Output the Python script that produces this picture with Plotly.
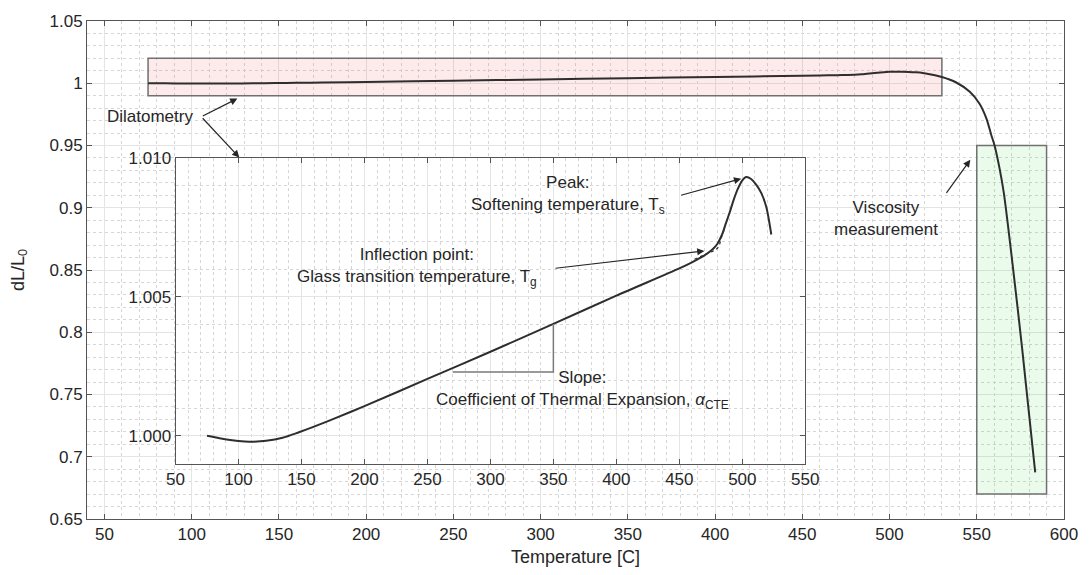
import plotly.graph_objects as go

# ---- dilatometry trace (temperature in C, relative length dL/L0) ----
dil_temp = [75, 85, 95, 105, 112, 122, 135, 148, 160, 175, 200, 250, 300, 350,
            400, 450, 460, 470, 476, 480, 484, 487, 490, 493, 496.5, 500, 503,
            507, 511, 515, 519, 523]
dil_len = [1.00000, 0.99991, 0.99984, 0.99980, 0.99979, 0.99982, 0.99993, 1.00013,
           1.00033, 1.00060, 1.00107, 1.00205, 1.00303, 1.00403, 1.00505, 1.00603,
           1.00625, 1.00650, 1.00670, 1.00690, 1.00726, 1.00766, 1.00805, 1.00848,
           1.00890, 1.00920, 1.00932, 1.00925, 1.00905, 1.00875, 1.00825, 1.00725]

# ---- continuation measured in the viscosity range ----
visc_temp = [530, 538, 546, 551.5, 555.5, 558.3, 560.2, 563, 565.5, 570.5, 576, 583.5]
visc_len = [1.0050, 1.0008, 0.9931, 0.9837, 0.9718, 0.9585, 0.9500, 0.9320,
            0.9120, 0.8550, 0.7870, 0.6875]

# ---- dotted construction near the glass transition ----
tg_temp = [462, 468, 474, 478, 481, 484, 486]
tg_len = [1.00636, 1.00648, 1.00660, 1.00668, 1.00680, 1.00722, 1.00745]

# ---- slope triangle for the CTE ----
slope_temp = [270, 350, 350]
slope_len = [1.00230, 1.00230, 1.00403]

# ---- highlighted regions ----
dil_box_temp = [75, 530]
dil_box_len = [0.99, 1.02]
visc_box_temp = [550, 590]
visc_box_len = [0.67, 0.95]

# ---- ticks ----
main_xticks = [50, 100, 150, 200, 250, 300, 350, 400, 450, 500, 550, 600]
main_yticks = [0.65, 0.7, 0.75, 0.8, 0.85, 0.9, 0.95, 1.0, 1.05]
main_yticktext = ["0.65", "0.7", "0.75", "0.8", "0.85", "0.9", "0.95", "1", "1.05"]
inset_xticks = [50, 100, 150, 200, 250, 300, 350, 400, 450, 500, 550]
inset_yticks = [1.000, 1.005, 1.010]
inset_yticktext = ["1.000", "1.005", "1.010"]

FONT = "Liberation Sans, Arial, sans-serif"
TXT = "#262626"
AXC = "#555555"
CURVE = "#2e2e2e"
GRID = "#e4e4e4"
MINOR = "#d6d6d6"

fig = go.Figure()

# main curve: dilatometry followed by the viscosity range
fig.add_trace(go.Scatter(
    x=dil_temp + visc_temp, y=dil_len + visc_len, mode="lines",
    line=dict(color=CURVE, width=2, shape="spline", smoothing=0.8),
    xaxis="x", yaxis="y", hoverinfo="skip", showlegend=False))

# inset: dilatometry detail
fig.add_trace(go.Scatter(
    x=dil_temp, y=dil_len, mode="lines",
    line=dict(color=CURVE, width=2, shape="spline", smoothing=0.8),
    xaxis="x2", yaxis="y2", hoverinfo="skip", showlegend=False))
fig.add_trace(go.Scatter(
    x=tg_temp, y=tg_len, mode="lines",
    line=dict(color="#333333", width=1.2, dash="dot", shape="spline"),
    xaxis="x2", yaxis="y2", hoverinfo="skip", showlegend=False))
fig.add_trace(go.Scatter(
    x=slope_temp, y=slope_len, mode="lines",
    line=dict(color="#7a7a7a", width=1.5),
    xaxis="x2", yaxis="y2", hoverinfo="skip", showlegend=False))

# highlighted regions on the main axes (translucent, above the grid)
fig.add_shape(type="rect", xref="x", yref="y",
              x0=dil_box_temp[0], x1=dil_box_temp[1], y0=dil_box_len[0], y1=dil_box_len[1],
              fillcolor="rgba(240,80,80,0.12)", line=dict(color="#707070", width=1.5),
              layer="between")
fig.add_shape(type="rect", xref="x", yref="y",
              x0=visc_box_temp[0], x1=visc_box_temp[1], y0=visc_box_len[0], y1=visc_box_len[1],
              fillcolor="rgba(60,220,60,0.10)", line=dict(color="#707070", width=1.5),
              layer="between")

axis_common = dict(
    showline=True, linecolor=AXC, linewidth=1, mirror="ticks",
    ticks="inside", ticklen=5, tickwidth=1, tickcolor=AXC,
    showgrid=True, gridcolor=GRID, gridwidth=1, zeroline=False,
    tickfont=dict(family=FONT, size=17, color=TXT),
)

fig.update_layout(
    width=1090, height=575,
    margin=dict(l=87, r=21, t=19, b=55),
    paper_bgcolor="white", plot_bgcolor="white",
    font=dict(family=FONT, size=17, color=TXT),
    xaxis=dict(**axis_common, range=[40, 600], domain=[0, 1], anchor="y",
               tickvals=main_xticks,
               minor=dict(dtick=10, tick0=0, showgrid=True, gridcolor=MINOR,
                          griddash="dot", gridwidth=1),
               title=dict(text="Temperature [C]", standoff=6,
                          font=dict(family=FONT, size=18, color=TXT))),
    yaxis=dict(**axis_common, range=[0.65, 1.05], domain=[0, 1], anchor="x",
               tickvals=main_yticks, ticktext=main_yticktext,
               minor=dict(dtick=0.01, tick0=0, showgrid=True, gridcolor=MINOR,
                          griddash="dot", gridwidth=1),
               title=dict(text="dL/L<sub>0</sub>", standoff=20,
                          font=dict(family=FONT, size=18, color=TXT))),
    xaxis2=dict(**axis_common, range=[50, 550], domain=[0.0906, 0.7352], anchor="y2",
                tickvals=inset_xticks,
                minor=dict(dtick=10, tick0=0, showgrid=True, gridcolor=MINOR,
                           griddash="dot", gridwidth=1)),
    yaxis2=dict(**axis_common, range=[0.999, 1.010], domain=[0.1112, 0.7246], anchor="x2",
                tickvals=inset_yticks, ticktext=inset_yticktext,
                minor=dict(dtick=0.001, tick0=0, showgrid=True, gridcolor=MINOR,
                           griddash="dot", gridwidth=1)),
)

arrow = dict(showarrow=True, arrowhead=2, arrowsize=1.2, arrowwidth=1.2,
             arrowcolor="#262626", text="")

# main-axes labels and arrows
fig.add_annotation(x=76, y=0.9731, xref="x", yref="y", text="Dilatometry",
                   showarrow=False, font=dict(size=17))
fig.add_annotation(x=126.2, y=0.9877, ax=105.5, ay=0.9731, xref="x", yref="y",
                   axref="x", ayref="y", **arrow)
fig.add_annotation(x=127.3, y=0.9404, ax=105.5, ay=0.9731, xref="x", yref="y",
                   axref="x", ayref="y", **arrow)
fig.add_annotation(x=497.8, y=0.8913, xref="x", yref="y",
                   text="Viscosity<br>measurement", showarrow=False, font=dict(size=17))
fig.add_annotation(x=546.3, y=0.9385, ax=532, ay=0.9108, xref="x", yref="y",
                   axref="x", ayref="y", **arrow)

# inset labels and arrows
fig.add_annotation(x=361.8, y=1.00868, xref="x2", yref="y2",
                   text="Peak:<br>Softening temperature, T<sub>s</sub>",
                   showarrow=False, font=dict(size=17))
fig.add_annotation(x=499.1, y=1.00926, ax=450.2, ay=1.00865, xref="x2", yref="y2",
                   axref="x2", ayref="y2", **arrow)
fig.add_annotation(x=241.8, y=1.00607, xref="x2", yref="y2",
                   text="Inflection point:<br>Glass transition temperature, T<sub>g</sub>",
                   showarrow=False, font=dict(size=17))
fig.add_annotation(x=469.9, y=1.00666, ax=350.5, ay=1.00603, xref="x2", yref="y2",
                   axref="x2", ayref="y2", **arrow)
fig.add_annotation(x=373.2, y=1.00165, xref="x2", yref="y2",
                   text="Slope:<br>Coefficient of Thermal Expansion, <i>α</i><sub>CTE</sub>",
                   showarrow=False, font=dict(size=17))

fig.write_html("out.html")
